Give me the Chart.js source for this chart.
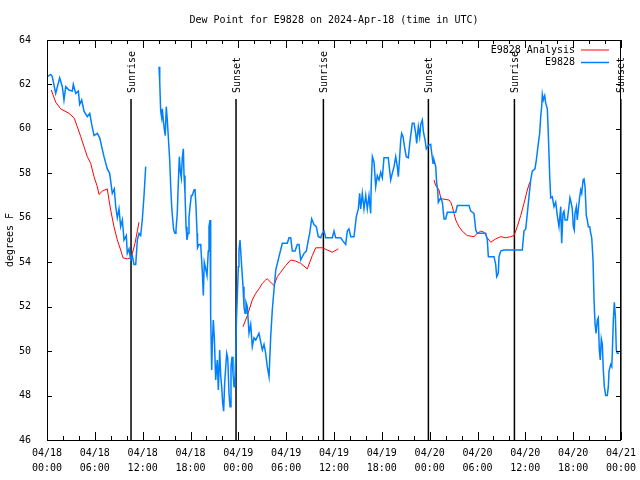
<!DOCTYPE html>
<html>
<head>
<meta charset="utf-8">
<title>Dew Point for E9828</title>
<script src="https://cdn.jsdelivr.net/npm/chart.js@4.4.1/dist/chart.umd.min.js"></script>
<style>
  html, body { margin: 0; padding: 0; background: #fff; }
  canvas { display: block; }
</style>
</head>
<body>
<canvas id="dew" width="640" height="480"></canvas>
<script>
// hours since 04/18 00:00 UTC, dew point in degrees F
const stationHours = [
  0.04, 0.46, 0.66, 1.09, 1.59, 1.92, 2.13, 2.35, 2.76, 3.17, 3.30, 3.60, 3.93, 4.10, 4.35, 4.64,
  5.06, 5.36, 5.61, 5.90, 6.31, 6.61, 6.86, 7.15, 7.56, 7.86, 8.19, 8.44, 8.62, 8.82, 9.03, 9.24,
  9.45, 9.66, 9.95, 10.07, 10.29, 10.50, 10.70, 10.91, 11.13, 11.33, 11.54, 11.75, 11.95, 12.17, 12.38,
  13.2,
  14.05, 14.14, 14.26, 14.39, 14.46, 14.59, 14.71, 14.84, 14.96, 15.09, 15.39, 15.52, 15.64, 15.77,
  15.89, 16.06, 16.18, 16.34, 16.47, 16.60, 16.72, 16.85, 16.97, 17.10, 17.19, 17.31, 17.44, 17.56,
  17.69, 17.81, 17.94, 18.10, 18.23, 18.44, 18.56, 18.69, 18.82, 18.88, 19.07, 19.28, 19.48, 19.61,
  19.73, 19.91, 20.07, 20.23, 20.32, 20.45, 20.53, 20.66, 20.73, 20.86, 20.99, 21.16, 21.36, 21.49,
  21.66, 21.79, 21.91, 22.04, 22.16, 22.29, 22.42, 22.54, 22.67, 22.83, 22.96, 23.08, 23.21, 23.33,
  23.46, 23.58, 23.67, 23.77, 23.87, 24.00, 24.08, 24.21, 24.42, 24.59, 24.71, 24.84, 24.96, 25.13,
  25.34, 25.55, 25.75, 25.97, 26.18, 26.59, 26.81, 27.01, 27.22, 27.43, 27.63, 27.85, 28.06, 28.26,
  28.47, 28.69, 29.10, 29.52, 30.14, 30.36, 30.57, 30.77, 31.11, 31.40, 31.61, 31.82, 32.24, 32.53,
  32.78, 32.95, 33.20, 33.49, 33.78, 34.03, 34.33, 34.53, 34.75, 34.96, 35.79, 36.00, 36.21, 36.84,
  37.13, 37.47, 37.67, 37.88, 38.10, 38.51, 38.80, 39.05, 39.22, 39.35, 39.55, 39.76, 39.98, 40.18,
  40.39, 40.60, 40.68, 40.81, 41.02, 41.23, 41.43, 41.65, 41.86, 42.06, 42.27, 42.81, 42.99, 43.11,
  43.31, 43.53, 43.74, 43.94, 44.07, 44.24, 44.37, 44.49, 44.66, 44.91, 45.07, 45.32, 45.50, 45.66,
  45.82, 46.04, 46.25, 46.37, 46.58, 46.75, 46.88, 47.08, 47.20, 47.42, 47.58, 47.83, 48.13, 48.26,
  48.42, 48.54, 48.76, 48.88, 49.01, 49.08, 49.17, 49.39, 49.59, 49.80, 50.01, 50.21, 51.27, 51.47,
  52.94, 53.15, 53.56, 53.78, 53.98, 55.03, 55.23, 55.36, 56.07, 56.28, 56.41, 56.61, 56.70, 56.91,
  57.32, 59.62, 59.83, 60.05, 60.25, 60.46, 60.67, 60.87, 61.21, 61.38, 61.63, 61.80, 61.93, 62.05,
  62.13, 62.25, 62.43, 62.56, 62.76, 62.88, 63.06, 63.18, 63.38, 63.60, 63.81, 64.01, 64.22, 64.44,
  64.56, 64.72, 64.85, 64.98, 65.14, 65.27, 65.60, 65.73, 65.89, 66.02, 66.14, 66.23, 66.40, 66.52,
  66.65, 66.82, 66.95, 67.07, 67.24, 67.36, 67.49, 67.65, 67.77, 67.90, 68.08, 68.20, 68.33, 68.49,
  68.62, 68.74, 68.87, 69.03, 69.15, 69.28, 69.40, 69.53, 69.66, 69.78, 69.91, 70.08, 70.28, 70.41,
  70.50, 70.71, 70.84, 70.91, 71.04, 71.16, 71.29, 71.41, 71.54, 71.75
];
const stationDew = [
  62.35, 62.45, 62.35, 61.6, 62.3, 61.9, 61.3, 61.9, 61.75, 61.7, 62.0, 61.6, 61.7, 61.1, 61.3, 60.8,
  60.55, 60.7, 60.2, 59.7, 59.8, 59.6, 59.2, 58.75, 58.2, 58.0, 57.1, 57.3, 56.5, 56.0, 56.4, 55.6,
  55.9, 55.0, 55.2, 54.4, 54.6, 54.1, 54.3, 53.9, 53.9, 55.0, 55.3, 55.2, 55.9, 57.0, 58.3,
  null,
  62.8, 62.1, 60.8, 60.5, 60.9, 60.4, 60.0, 59.7, 61.0, 60.4, 58.6, 57.4, 56.5, 55.9,
  55.45, 55.3, 55.45, 56.2, 57.55, 58.75, 58.1, 57.8, 58.7, 59.1, 57.9, 57.1, 55.6, 55.0,
  55.3, 56.0, 56.5, 57.0, 57.0, 57.25, 57.3, 56.5, 55.3, 54.65, 54.8, 54.8, 53.6, 52.5,
  54.0, 53.7, 53.4, 54.5, 55.6, 55.9, 51.6, 49.15, 50.2, 51.4, 50.6, 48.7, 49.6, 48.25,
  50.05, 48.9, 48.4, 47.65, 47.3, 48.6, 49.3, 49.9, 49.7, 48.1, 47.5, 49.3, 49.75, 49.0,
  48.4, 48.8, 49.75, 51.5, 52.45, 53.8, 54.55, 55.0, 53.8, 52.9, 52.0, 51.7, 52.2, 52.0,
  50.8, 51.2, 50.2, 50.6, 50.5, 50.8, 50.4, 50.05, 50.3, 49.9, 49.3, 48.85, 50.65, 51.85,
  52.75, 53.65, 54.25, 54.85, 54.85, 55.1, 55.1, 54.5, 54.5, 54.8, 54.8, 54.1, 54.4, 54.5,
  55.0, 55.3, 55.95, 55.7, 55.6, 55.15, 55.1, 55.3, 55.4, 55.1, 55.1, 55.4, 55.1, 55.1,
  54.95, 54.8, 55.4, 55.5, 55.15, 55.15, 56.05, 56.4, 57.1, 56.4, 57.1, 56.4, 57.0, 56.4,
  57.0, 56.2, 57.6, 58.75, 58.5, 57.4, 57.9, 57.7, 58.05, 57.8, 58.7, 58.7, 58.1, 57.7,
  58.0, 58.3, 58.75, 58.3, 57.85, 58.75, 59.5, 59.8, 59.65, 59.05, 58.75, 58.7, 59.35, 59.8,
  60.25, 60.25, 59.8, 59.35, 60.1, 59.65, 60.2, 60.4, 59.9, 59.5, 59.1, 59.25, 59.3, 58.9,
  58.45, 58.6, 58.3, 57.55, 57.25, 56.7, 56.7, 56.9, 56.7, 55.95, 55.95, 56.25, 56.25, 56.55,
  56.55, 56.3, 56.2, 55.45, 55.3, 55.3, 55.0, 54.25, 54.25, 53.9, 53.35, 53.5, 54.25, 54.5,
  54.55, 54.55, 55.4, 55.5, 56.2, 56.95, 57.7, 58.1, 58.2, 58.6, 59.35, 59.8, 60.55, 61.0,
  61.55, 61.3, 61.5, 61.15, 60.9, 59.8, 57.85, 56.9, 56.95, 56.5, 56.7, 56.1, 55.6, 56.5,
  54.85, 56.2, 56.3, 55.9, 55.9, 55.9, 56.9, 56.7, 56.4, 55.6, 55.45, 56.2, 56.5, 55.9,
  56.4, 56.95, 57.25, 57.1, 57.7, 57.75, 57.4, 56.1, 55.9, 55.6, 55.6, 55.3, 55.1, 54.1,
  52.3, 51.25, 50.8, 51.4, 51.5, 50.05, 49.6, 50.55, 50.3, 49.15, 48.4, 48.0, 48.0, 48.4,
  49.1, 49.4, 49.3, 49.9, 51.4, 52.2, 51.6, 50.05, 49.9, 49.9
];

const analysisHours = [
  0.54, 1.09, 1.72, 2.76, 3.39, 3.80, 4.23, 4.64, 5.06, 5.48, 5.90, 6.31, 6.52, 6.94, 7.56, 7.78,
  7.99, 8.40, 8.82, 9.24, 9.53, 10.07, 10.50, 10.70, 11.04, 11.33, 11.54,
  18,
  24.59, 25.13, 25.75, 26.18, 26.59, 27.01, 27.43, 27.63, 28.06, 28.47, 28.89, 29.31, 29.94, 30.57,
  31.20, 31.82, 32.65, 33.28, 33.71, 34.53, 35.16, 35.79, 36.54,
  42,
  48.54, 48.76, 49.17, 49.39, 49.59, 50.43, 50.64, 50.84, 51.05, 51.27, 51.47, 51.68, 52.09, 52.72,
  53.56, 53.98, 54.40, 54.82, 55.23, 55.66, 56.28, 56.91, 57.54, 58.17, 58.58, 58.99, 59.42, 59.83,
  60.25, 60.55
];
const analysisDew = [
  61.75, 61.2, 60.9, 60.7, 60.5, 60.1, 59.65, 59.2, 58.75, 58.45, 57.85, 57.4, 57.05, 57.2, 57.3, 56.8,
  56.35, 55.6, 55.0, 54.55, 54.2, 54.15, 54.2, 54.4, 54.85, 55.4, 55.8,
  null,
  51.1, 51.6, 52.3, 52.6, 52.8, 53.05, 53.2, 53.25, 53.1, 52.95, 53.35, 53.55, 53.85, 54.1,
  54.05, 53.95, 53.7, 54.3, 54.65, 54.65, 54.55, 54.45, 54.6,
  null,
  57.7, 57.45, 57.25, 56.9, 56.85, 56.8, 56.7, 56.5, 56.2, 55.9, 55.75, 55.6, 55.4, 55.2,
  55.15, 55.3, 55.4, 55.35, 55.1, 54.9, 55.05, 55.15, 55.1, 55.15, 55.2, 55.6, 56.1, 56.65,
  57.25, 57.6
];

const tickDays  = ['04/18', '04/18', '04/18', '04/18', '04/19', '04/19', '04/19', '04/19',
                   '04/20', '04/20', '04/20', '04/20', '04/21'];
const tickTimes = ['00:00', '06:00', '12:00', '18:00', '00:00', '06:00', '12:00', '18:00',
                   '00:00', '06:00', '12:00', '18:00', '00:00'];

const sunHours  = [10.54, 23.71, 34.67, 47.84, 58.63, 71.98];
const sunLabels = ['Sunrise', 'Sunset', 'Sunrise', 'Sunset', 'Sunrise', 'Sunset'];

const BLUE = '#0080ff';
const RED  = '#ff0000';
const MONO = '"DejaVu Sans Mono", "Liberation Mono", monospace';
const FONT = '10px ' + MONO;

function points(hours, vals) {
  return hours.map((h, i) => ({ x: h, y: vals[i] }));
}

// sunrise / sunset markers, drawn under the curves
const sunMarks = {
  id: 'sunMarks',
  beforeDatasetsDraw(chart) {
    const { ctx, chartArea: a, scales: { x } } = chart;
    ctx.save();
    ctx.font = FONT;
    ctx.fillStyle = '#000';
    ctx.strokeStyle = '#000';
    ctx.lineWidth = 1.5;
    sunHours.forEach((h, i) => {
      const px = x.getPixelForValue(h);
      ctx.beginPath();
      ctx.moveTo(px, a.top + 59);
      ctx.lineTo(px, a.bottom);
      ctx.stroke();
      ctx.save();
      ctx.translate(px + 1, a.top + 53);
      ctx.rotate(-Math.PI / 2);
      ctx.textAlign = 'left';
      ctx.textBaseline = 'middle';
      ctx.fillText(sunLabels[i], 0, 0);
      ctx.restore();
    });
    ctx.restore();
  },
};

// gnuplot-ish frame: box, inward ticks on all four sides, title, key
const frame = {
  id: 'frame',
  afterDraw(chart) {
    const { ctx, chartArea: a, scales: { x, y } } = chart;
    ctx.save();
    ctx.strokeStyle = '#000';
    ctx.lineWidth = 1;
    ctx.beginPath();
    x.ticks.forEach(t => {
      const px = Math.round(x.getPixelForValue(t.value)) + 0.5;
      const len = t.value % 6 === 0 ? 8 : 4;
      ctx.moveTo(px, a.bottom); ctx.lineTo(px, a.bottom - len);
      ctx.moveTo(px, a.top);    ctx.lineTo(px, a.top + len);
    });
    y.ticks.forEach(t => {
      const py = Math.round(y.getPixelForValue(t.value)) + 0.5;
      ctx.moveTo(a.left, py);  ctx.lineTo(a.left + 5, py);
      ctx.moveTo(a.right, py); ctx.lineTo(a.right - 5, py);
    });
    ctx.stroke();
    ctx.strokeRect(a.left + 0.5, a.top + 0.5, a.right - a.left - 1, a.bottom - a.top);

    ctx.font = FONT;
    ctx.fillStyle = '#000';
    ctx.textBaseline = 'middle';
    ctx.textAlign = 'center';
    ctx.fillText('Dew Point for E9828 on 2024-Apr-18 (time in UTC)', (a.left + a.right) / 2, 20);

    // key
    const keys = [['E9828 Analysis', RED, 1], ['E9828', BLUE, 1.5]];
    ctx.textAlign = 'right';
    keys.forEach(([label, color, w], i) => {
      const ky = 50 + i * 12.5;
      ctx.fillStyle = '#000';
      ctx.fillText(label, 575, ky);
      ctx.strokeStyle = color;
      ctx.lineWidth = w;
      ctx.beginPath();
      ctx.moveTo(581, ky);
      ctx.lineTo(609, ky);
      ctx.stroke();
    });
    ctx.restore();
  },
};

new Chart(document.getElementById('dew'), {
  type: 'line',
  data: {
    datasets: [
      {
        label: 'E9828',
        data: points(stationHours, stationDew),
        borderColor: BLUE,
        borderWidth: 1.5,
      },
      {
        label: 'E9828 Analysis',
        data: points(analysisHours, analysisDew),
        borderColor: RED,
        borderWidth: 1,
      },
    ],
  },
  options: {
    responsive: false,
    animation: false,
    spanGaps: false,
    elements: {
      point: { radius: 0 },
      line: { tension: 0, fill: false },
    },
    layout: { padding: { top: 40, right: 19, left: 0, bottom: 0 } },
    plugins: {
      legend: { display: false },
      tooltip: { enabled: false },
    },
    scales: {
      x: {
        type: 'linear',
        min: 0,
        max: 72,
        afterFit: s => { s.height = 40; },
        grid: { display: false },
        border: { display: false },
        ticks: {
          stepSize: 2,
          autoSkip: false,
          maxRotation: 0,
          padding: -2,
          color: '#000',
          font: { family: MONO, size: 10, lineHeight: 1.5 },
          callback: v => (v % 6 === 0 ? [tickDays[v / 6], tickTimes[v / 6]] : ''),
        },
      },
      y: {
        min: 46,
        max: 64,
        afterFit: s => { s.width = 47; },
        grid: { display: false },
        border: { display: false },
        ticks: {
          stepSize: 2,
          padding: 8,
          color: '#000',
          font: { family: MONO, size: 10 },
        },
        title: {
          display: true,
          text: 'degrees F',
          color: '#000',
          padding: { top: 4, bottom: 0 },
          font: { family: MONO, size: 10 },
        },
      },
    },
  },
  plugins: [sunMarks, frame],
});
</script>
</body>
</html>
